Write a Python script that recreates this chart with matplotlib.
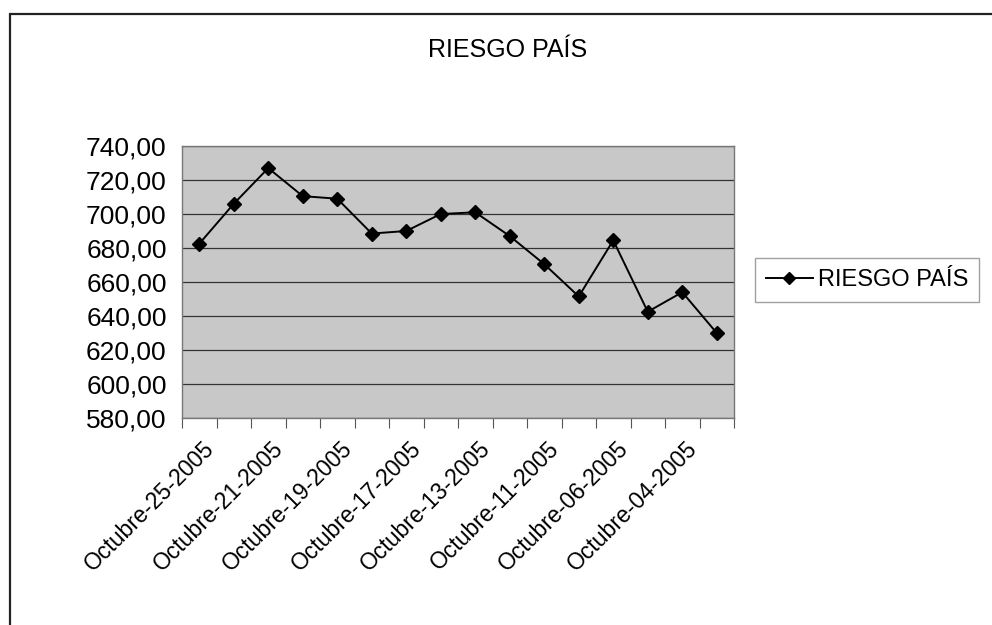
import matplotlib.pyplot as plt
from matplotlib.patches import Rectangle
from matplotlib import font_manager

# data (most recent first, as in the original)
fechas = ['Octubre-25-2005', 'Octubre-24-2005', 'Octubre-21-2005', 'Octubre-20-2005',
          'Octubre-19-2005', 'Octubre-18-2005', 'Octubre-17-2005', 'Octubre-14-2005',
          'Octubre-13-2005', 'Octubre-12-2005', 'Octubre-11-2005', 'Octubre-07-2005',
          'Octubre-06-2005', 'Octubre-05-2005', 'Octubre-04-2005', 'Octubre-03-2005']
riesgo = [682.5, 706.0, 727.0, 710.5, 709.0, 688.5, 690.0, 700.0,
          701.0, 687.0, 670.5, 651.5, 684.5, 642.5, 654.0, 630.0]
y_ticks = [580, 600, 620, 640, 660, 680, 700, 720, 740]

names = {f.name for f in font_manager.fontManager.ttflist}
fam = 'Liberation Sans Narrow' if 'Liberation Sans Narrow' in names else 'Liberation Sans'
plt.rcParams['font.family'] = [fam, 'DejaVu Sans']

fig = plt.figure(figsize=(9.92, 6.25), dpi=100)
fig.patch.set_facecolor('white')

# outer chart frame (cut off at right and bottom)
fig.add_artist(Rectangle((10 / 992, -0.05), 1.1, 1 - 14 / 625 + 0.05,
                         transform=fig.transFigure, fill=False,
                         edgecolor='#222222', linewidth=1.6))

ax = fig.add_axes([182 / 992, 1 - 418 / 625, (734 - 182) / 992, (418 - 146) / 625])
ax.set_facecolor('#c8c8c8')

x = list(range(len(riesgo)))
ax.plot(x, riesgo, color='black', linewidth=1.4, marker='D', markersize=7.5,
        markerfacecolor='black', markeredgecolor='black', label='RIESGO PAÍS')

ax.set_xlim(-0.5, len(riesgo) - 0.5)
ax.set_ylim(580, 740)
ax.set_yticks(y_ticks)
ax.set_yticklabels([f'{v:.2f}'.replace('.', ',') for v in y_ticks], fontsize=19)
ax.yaxis.grid(True, color='#333333', linewidth=0.9)
ax.set_axisbelow(True)
ax.tick_params(axis='y', length=0, pad=11)

# category boundaries carry the tick marks, labels every other category
ax.set_xticks([i - 0.5 for i in range(len(riesgo) + 1)])
ax.set_xticklabels([])
ax.tick_params(axis='x', direction='out', length=7, color='#555555')
for i in range(0, len(fechas), 2):
    ax.text(i + 0.1, 569, fechas[i], rotation=45, ha='right', va='top',
            rotation_mode='anchor', fontsize=16.5)

for s in ax.spines.values():
    s.set_color('#777777')
    s.set_linewidth(1)

fig.text(508 / 992, 1 - 50 / 625, 'RIESGO PAÍS', ha='center', va='center', fontsize=18)

leg = ax.legend(loc='center left', bbox_to_anchor=(755 / 992, 1 - 280 / 625),
                bbox_transform=fig.transFigure, frameon=True, fancybox=False,
                fontsize=17, handlelength=2.0, handletextpad=0.2, borderpad=0.45,
                borderaxespad=0, numpoints=1, markerscale=0.75)
leg.get_frame().set_edgecolor('#888888')
leg.get_frame().set_linewidth(1)

fig.savefig('out.png', dpi=100)
